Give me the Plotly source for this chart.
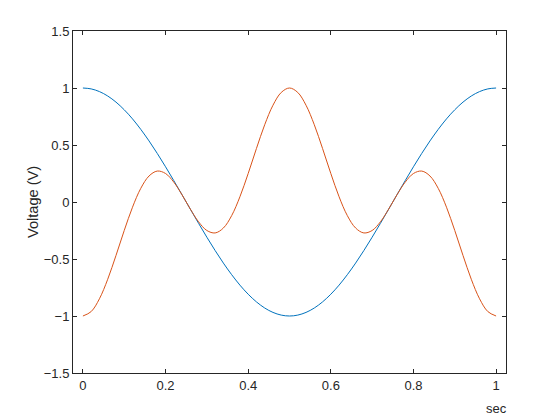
import plotly.graph_objects as go

# time samples (sec)
t = [round(0.02 * k, 2) for k in range(51)]

# values (blue and orange traces)
blue_half = [1.0, 0.9921, 0.9686, 0.9298, 0.8763, 0.8090, 0.7290, 0.6374, 0.5358,
             0.4258, 0.3090, 0.1874, 0.0628, -0.0628, -0.1874, -0.3090, -0.4258,
             -0.5358, -0.6374, -0.7290, -0.8090, -0.8763, -0.9298, -0.9686, -0.9921, -1.0]
orange_half = [-1.0, -0.9610, -0.8488, -0.6778, -0.4696, -0.25, -0.0458, 0.1195, 0.2282,
               0.2714, 0.25, 0.1742, 0.0623, -0.0623, -0.1742, -0.25, -0.2714,
               -0.2282, -0.1195, 0.0458, 0.25, 0.4696, 0.6778, 0.8488, 0.9610, 1.0]
blue = blue_half + blue_half[-2::-1]
orange = orange_half + orange_half[-2::-1]

x_ticks = [0, 0.2, 0.4, 0.6, 0.8, 1]
x_tick_text = ["0", "0.2", "0.4", "0.6", "0.8", "1"]
y_ticks = [-1.5, -1, -0.5, 0, 0.5, 1, 1.5]
y_tick_text = ["\u22121.5", "\u22121", "\u22120.5", "0", "0.5", "1", "1.5"]

AX = "#262626"
FONT = "Liberation Sans, Arial, Helvetica, sans-serif"

fig = go.Figure()
fig.add_trace(go.Scatter(x=t, y=blue, mode="lines", line=dict(color="#0072BD", width=1, shape="spline"),
                         showlegend=False, hoverinfo="skip"))
fig.add_trace(go.Scatter(x=t, y=orange, mode="lines", line=dict(color="#D95319", width=1, shape="spline"),
                         showlegend=False, hoverinfo="skip"))

axis_common = dict(showline=True, linecolor=AX, linewidth=1, mirror="ticks", ticks="inside",
                   ticklen=4, tickwidth=1, tickcolor=AX, showgrid=False, zeroline=False,
                   tickfont=dict(family=FONT, size=13, color=AX))

# page body has an 8px default margin, so the figure is sized to fit the 560x420 window
fig.update_layout(
    width=552, height=412,
    margin=dict(l=65, r=54, t=23, b=47),
    paper_bgcolor="white", plot_bgcolor="white",
    xaxis=dict(range=[-0.024, 1.024], tickvals=x_ticks, ticktext=x_tick_text, **axis_common),
    yaxis=dict(range=[-1.5, 1.5], tickvals=y_ticks, ticktext=y_tick_text, **axis_common),
    font=dict(family=FONT, size=13, color=AX),
    annotations=[
        dict(text="Voltage (V)", textangle=-90, xref="paper", yref="paper", x=0, y=0.5,
             xanchor="center", yanchor="middle", xshift=-40, showarrow=False,
             font=dict(family=FONT, size=14.6, color=AX)),
        dict(text="sec", xref="x", yref="paper", x=1.0, y=0, xanchor="center", yanchor="middle",
             yshift=-35, showarrow=False, font=dict(family=FONT, size=13, color=AX)),
    ],
)

fig.write_html("out.html")
